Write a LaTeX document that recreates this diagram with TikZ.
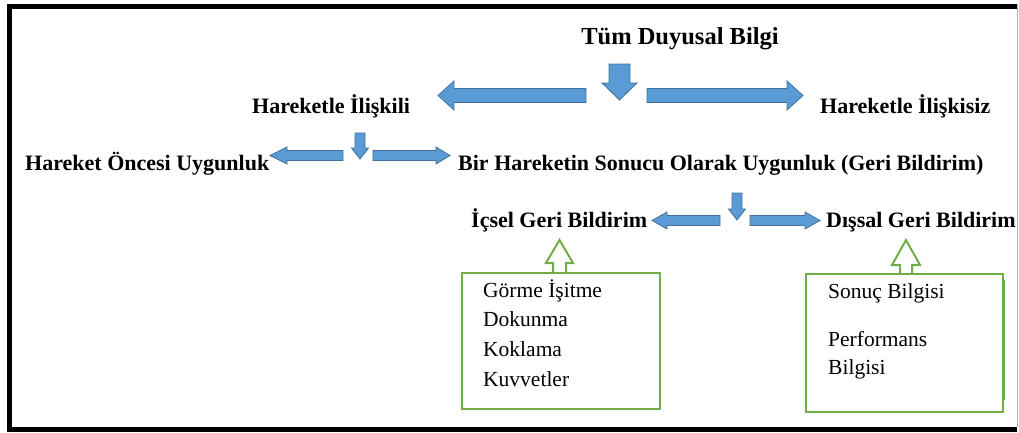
\documentclass[tikz,border=0pt]{standalone}
\usepackage{fontspec}
\setmainfont{Liberation Serif}
\definecolor{arrowfill}{HTML}{5B9BD5}
\definecolor{arrowline}{HTML}{41719C}
\definecolor{boxgreen}{HTML}{70AD47}
\newcommand\blkarrowR[6]{% x1, tip x, yc, shaft half, head half, head length
  \fill[blockarrow] (#1,{#3-#4}) -- ({#2-#6},{#3-#4}) -- ({#2-#6},{#3-#5}) -- (#2,#3) -- ({#2-#6},{#3+#5}) -- ({#2-#6},{#3+#4}) -- (#1,{#3+#4}) -- cycle;}
\newcommand\blkarrowL[6]{% x1 (tail), tip x, yc, shaft half, head half, head length
  \fill[blockarrow] (#1,{#3-#4}) -- ({#2+#6},{#3-#4}) -- ({#2+#6},{#3-#5}) -- (#2,#3) -- ({#2+#6},{#3+#5}) -- ({#2+#6},{#3+#4}) -- (#1,{#3+#4}) -- cycle;}
\newcommand\blkarrowD[6]{% xc, top y, tip y, shaft half, head half, head length
  \fill[blockarrow] ({#1-#4},#2) -- ({#1+#4},#2) -- ({#1+#4},{#3-#6}) -- ({#1+#5},{#3-#6}) -- (#1,#3) -- ({#1-#5},{#3-#6}) -- ({#1-#4},{#3-#6}) -- cycle;}
\begin{document}
\begin{tikzpicture}[x=1pt,y=-1pt,
  blockarrow/.style={fill=arrowfill,draw=arrowline,line width=0.8pt},
  head/.style={anchor=base west,inner sep=0pt,font=\fontsize{22}{26}\selectfont\bfseries},
  item/.style={anchor=base west,inner sep=0pt,font=\fontsize{21.5}{26}\selectfont},
  greenbox/.style={draw=boxgreen,line width=2pt},
  frameblack/.style={draw=black,line width=5pt}]
\useasboundingbox (0,0) rectangle (1019,432);
% frame
\draw[frameblack] (7,6) -- (1017,6);
\draw[frameblack] (9.5,4) -- (9.5,432);
\draw[frameblack] (7,429.5) -- (1017,429.5);
\draw[draw=gray!60,line width=1pt] (1017,4) -- (1017,427);
% texts
\node[anchor=base,inner sep=0pt,font=\fontsize{24.5}{28}\selectfont\bfseries] (tum) at (680,44) {Tüm Duyusal Bilgi};
\node[head] (ilis) at (252,113) {Hareketle İlişkili};
\node[head] (ilissiz) at (820,113) {Hareketle İlişkisiz};
\node[head] (once) at (25,170) {Hareket Öncesi Uygunluk};
\node[head] (sonuc) at (458,170) {Bir Hareketin Sonucu Olarak Uygunluk (Geri Bildirim)};
\node[head] (icsel) at (471,227) {İçsel Geri Bildirim};
\node[head] (dissal) at (826,227) {Dışsal Geri Bildirim};
% blue block arrows
\blkarrowD{619.5}{64}{100}{10.5}{17.5}{17}
\blkarrowL{586}{438}{95.5}{7}{14.5}{16}
\blkarrowR{647}{803}{95.5}{7}{14.5}{16}
\blkarrowD{360}{133}{159}{5}{8.5}{11}
\blkarrowL{343}{270}{155.5}{5}{8.5}{17}
\blkarrowR{373}{450}{155.5}{5}{8.5}{14}
\blkarrowD{737}{193}{220}{5}{8.5}{11}
\blkarrowL{720}{652}{220.5}{5}{8.5}{15}
\blkarrowR{750}{820}{220.5}{5}{8.5}{15}
% green boxes
\node[greenbox,anchor=north west,minimum width=198pt,minimum height=136pt,inner sep=0pt] (box1) at (461,272) {};
\node[greenbox,anchor=north west,minimum width=197pt,minimum height=138pt,inner sep=0pt] (box2) at (805,273) {};
\draw[greenbox,line width=2.5pt] (1003.5,280) -- (1003.5,400);
\draw[greenbox,line join=miter] (553,272) -- (553,263) -- (546,263) -- (559.5,240) -- (573,263) -- (566,263) -- (566,272);
\draw[greenbox,line join=miter] (900,273) -- (900,265) -- (892,265) -- (906,240) -- (920,265) -- (912,265) -- (912,273);
% box texts
\node[item] (gorme) at (483,297) {Görme İşitme};
\node[item] (dokunma) at (483,326) {Dokunma};
\node[item] (koklama) at (483,356) {Koklama};
\node[item] (kuvvet) at (483,386) {Kuvvetler};
\node[item] (sonucb) at (828,298) {Sonuç Bilgisi};
\node[item] (perf) at (828,346) {Performans};
\node[item] (bilgisi) at (828,374) {Bilgisi};
\end{tikzpicture}
\end{document}
